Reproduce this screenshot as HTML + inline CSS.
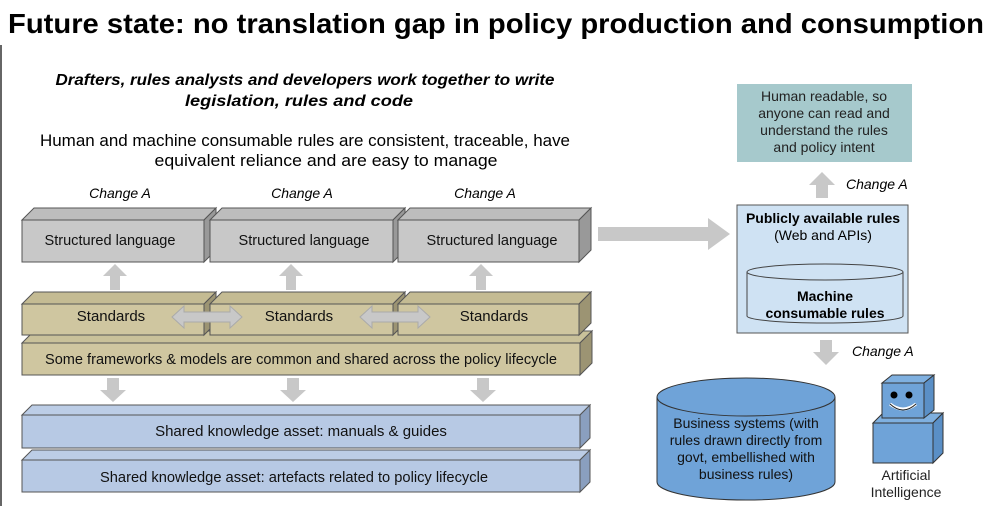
<!DOCTYPE html>
<html><head><meta charset="utf-8"><style>body{margin:0;background:#fff}svg{display:block}text{font-family:"Liberation Sans",Arial,sans-serif}</style></head><body>
<svg width="989" height="506" viewBox="0 0 989 506" xmlns="http://www.w3.org/2000/svg">
<rect width="989" height="506" fill="#fff"/>
<line x1="1" y1="45" x2="1" y2="506" stroke="#666" stroke-width="2"/>
<text x="8" y="33" font-size="28" font-weight="bold" fill="#000" textLength="976" lengthAdjust="spacingAndGlyphs">Future state: no translation gap in policy production and consumption</text>
<text x="305" y="85" font-size="16" font-weight="bold" font-style="italic" text-anchor="middle" textLength="499" lengthAdjust="spacingAndGlyphs">Drafters, rules analysts and developers work together to write</text>
<text x="299" y="106" font-size="16" font-weight="bold" font-style="italic" text-anchor="middle" textLength="228" lengthAdjust="spacingAndGlyphs">legislation, rules and code</text>
<text x="305" y="146" font-size="17" text-anchor="middle" textLength="530" lengthAdjust="spacingAndGlyphs">Human and machine consumable rules are consistent, traceable, have</text>
<text x="326" y="166" font-size="17" text-anchor="middle" textLength="343" lengthAdjust="spacingAndGlyphs">equivalent reliance and are easy to manage</text>

<g font-size="14" font-style="italic" text-anchor="middle">
<text x="120" y="198">Change A</text><text x="302" y="198">Change A</text><text x="485" y="198">Change A</text>
</g>

<g stroke="#555" stroke-width="1">
<g fill="#c8c8c8">
<polygon points="22,220 34,208 216,208 204,220" fill="#bdbdbd"/><polygon points="204,220 216,208 216,250 204,262" fill="#999"/><rect x="22" y="220" width="182" height="42"/>
<polygon points="210,220 222,208 405,208 393,220" fill="#bdbdbd"/><polygon points="393,220 405,208 405,250 393,262" fill="#999"/><rect x="210" y="220" width="183" height="42"/>
<polygon points="398,220 410,208 591,208 579,220" fill="#bdbdbd"/><polygon points="579,220 591,208 591,250 579,262" fill="#999"/><rect x="398" y="220" width="181" height="42"/>
</g>
<polygon points="22,343 34,331 592,331 580,343" fill="#c9c19a"/><polygon points="580,343 592,331 592,363 580,375" fill="#9c9473"/><rect x="22" y="343" width="558" height="32" fill="#cfc6a0"/>
<g fill="#cfc6a0">
<polygon points="22,304 34,292 216,292 204,304" fill="#c4bb93"/><polygon points="204,304 216,292 216,323 204,335" fill="#9c9473"/><rect x="22" y="304" width="182" height="31"/>
<polygon points="210,304 222,292 405,292 393,304" fill="#c4bb93"/><polygon points="393,304 405,292 405,323 393,335" fill="#9c9473"/><rect x="210" y="304" width="183" height="31"/>
<polygon points="398,304 410,292 591,292 579,304" fill="#c4bb93"/><polygon points="579,304 591,292 591,323 579,335" fill="#9c9473"/><rect x="398" y="304" width="181" height="31"/>
</g>
<polygon points="22,415 32,405 590,405 580,415" fill="#bccde6"/><polygon points="580,415 590,405 590,438 580,448" fill="#8a9fbf"/><rect x="22" y="415" width="558" height="33" fill="#b7c9e4"/>
<polygon points="22,460 32,450 590,450 580,460" fill="#bccde6"/><polygon points="580,460 590,450 590,482 580,492" fill="#8a9fbf"/><rect x="22" y="460" width="558" height="32" fill="#b7c9e4"/>
</g>
<g font-size="15" text-anchor="middle" fill="#111">
<text x="110" y="245" textLength="131" lengthAdjust="spacingAndGlyphs">Structured language</text><text x="304" y="245" textLength="131" lengthAdjust="spacingAndGlyphs">Structured language</text><text x="492" y="245" textLength="131" lengthAdjust="spacingAndGlyphs">Structured language</text>
<text x="111" y="321">Standards</text><text x="299" y="321">Standards</text><text x="494" y="321">Standards</text>
<text x="301" y="364" textLength="512" lengthAdjust="spacingAndGlyphs">Some frameworks &amp; models are common and shared across the policy lifecycle</text>
<text x="301" y="436">Shared knowledge asset: manuals &amp; guides</text>
<text x="294" y="482" textLength="388" lengthAdjust="spacingAndGlyphs">Shared knowledge asset: artefacts related to policy lifecycle</text>
</g>

<g fill="#c8c8c8">
<polygon points="110,290 110,276 103,276 115,264 127,276 120,276 120,290"/>
<polygon points="286,290 286,276 279,276 291,264 303,276 296,276 296,290"/>
<polygon points="476,290 476,276 469,276 481,264 493,276 486,276 486,290"/>
<polygon points="107,378 119,378 119,390 126,390 113,402 100,390 107,390"/>
<polygon points="287,378 299,378 299,390 306,390 293,402 280,390 287,390"/>
<polygon points="477,378 489,378 489,390 496,390 483,402 470,390 477,390"/>
<polygon points="172,317 184,306 184,312 230,312 230,306 242,317 230,328 230,322 184,322 184,328" stroke="#aaa" stroke-width="1"/>
<polygon points="360,317 372,306 372,312 418,312 418,306 430,317 418,328 418,322 372,322 372,328" stroke="#aaa" stroke-width="1"/>
<polygon points="598,227 708,227 708,218 730,234 708,250 708,241 598,241"/>
<polygon points="816,198 816,185 809,185 822,172 835,185 828,185 828,198"/>
<polygon points="820,340 832,340 832,352 839,352 826,365 813,352 820,352"/>
</g>
<g font-size="14" font-style="italic"><text x="846" y="189">Change A</text><text x="852" y="356">Change A</text></g>

<rect x="737" y="84" width="175" height="78" fill="#a6c9cc"/>
<g font-size="14" text-anchor="middle" fill="#222"><text x="824" y="101">Human readable, so</text><text x="824" y="118">anyone can read and</text><text x="824" y="135">understand the rules</text><text x="824" y="152">and policy intent</text></g>

<rect x="737" y="205" width="171" height="128" fill="#cfe2f3" stroke="#555"/>
<text x="823" y="223" font-size="14" font-weight="bold" text-anchor="middle">Publicly available rules</text>
<text x="823" y="240" font-size="14" text-anchor="middle">(Web and APIs)</text>
<path d="M747,272 L747,316 A78,7 0 0 0 903,316 L903,272" fill="#cfe2f3" stroke="#444"/>
<ellipse cx="825" cy="272" rx="78" ry="8" fill="#cfe2f3" stroke="#444"/>
<text x="825" y="301" font-size="14" font-weight="bold" text-anchor="middle">Machine</text>
<text x="825" y="318" font-size="14" font-weight="bold" text-anchor="middle">consumable rules</text>

<path d="M657,397 L657,482 A89,18 0 0 0 835,482 L835,397" fill="#6fa3d8" stroke="#333"/>
<ellipse cx="746" cy="397" rx="89" ry="19" fill="#6fa3d8" stroke="#333"/>
<g font-size="14" text-anchor="middle" fill="#111"><text x="746" y="428">Business systems (with</text><text x="746" y="445">rules drawn directly from</text><text x="746" y="462">govt, embellished with</text><text x="746" y="479">business rules)</text></g>

<g stroke="#333" fill="#6fa3d8">
<polygon points="873,423 883,413 943,413 933,423" fill="#7fb0e0"/><polygon points="933,423 943,413 943,453 933,463" fill="#5a8fc6"/><rect x="873" y="423" width="60" height="40"/>
<polygon points="882,383 892,375 934,375 924,383" fill="#7fb0e0"/><polygon points="924,383 934,375 934,410 924,418" fill="#5a8fc6"/><rect x="882" y="383" width="42" height="35"/>
</g>
<circle cx="894" cy="395" r="3.5" fill="#000"/><circle cx="909" cy="395" r="3.5" fill="#000"/>
<path d="M890,404 Q903,414 916,404" fill="none" stroke="#fff" stroke-width="3"/>
<path d="M890,404 Q903,416 916,404" fill="none" stroke="#222" stroke-width="1"/>
<g font-size="14" text-anchor="middle" fill="#222"><text x="906" y="480">Artificial</text><text x="906" y="497">Intelligence</text></g>
</svg>
</body></html>
